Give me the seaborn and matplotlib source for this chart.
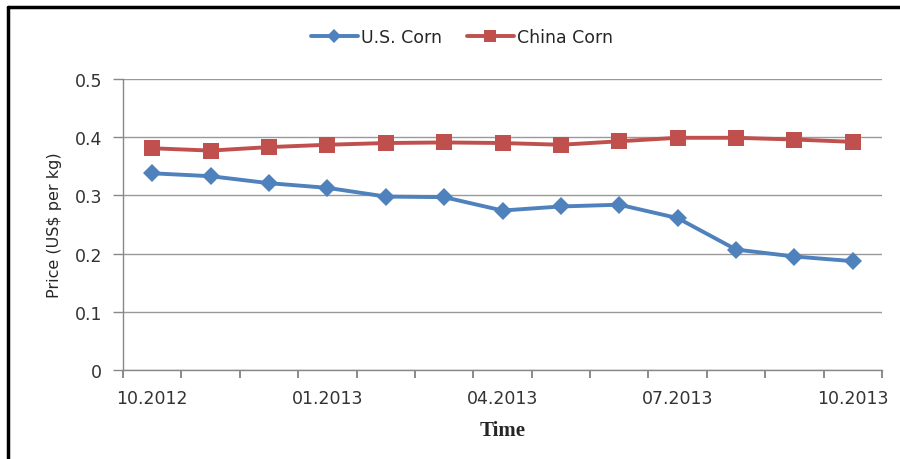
#Corn price comparison: U.S. vs China

#Import the libraries
import pandas as pd
import matplotlib.pyplot as plt
import seaborn as sns
from matplotlib.lines import Line2D

#Data
months = ['10.2012', '11.2012', '12.2012', '01.2013', '02.2013', '03.2013', '04.2013',
          '05.2013', '06.2013', '07.2013', '08.2013', '09.2013', '10.2013']
us_corn = [0.338, 0.333, 0.321, 0.313, 0.298, 0.297, 0.274,
           0.281, 0.284, 0.261, 0.207, 0.195, 0.187]
china_corn = [0.381, 0.377, 0.383, 0.387, 0.390, 0.391, 0.390,
              0.387, 0.393, 0.399, 0.399, 0.396, 0.392]
label_months = ['10.2012', '01.2013', '04.2013', '07.2013', '10.2013']
series_names = ['U.S. Corn', 'China Corn']
colors = {'U.S. Corn': '#4F81BD', 'China Corn': '#C0504D'}

sns.set_style('white')
plt.rcParams['font.family'] = ['DejaVu Sans']

#Long form data frame
df = pd.DataFrame({
    'Month': months * 2,
    'Price': us_corn + china_corn,
    'Series': ['U.S. Corn'] * len(months) + ['China Corn'] * len(months),
})
df['Pos'] = df.groupby('Series').cumcount()

fig = plt.figure(figsize=(9, 4.6), dpi=100)
ax = fig.add_axes([123/900, 1 - 371/460, (882-123)/900, (371-80)/460])

sns.lineplot(data=df, x='Pos', y='Price', hue='Series', style='Series',
             hue_order=series_names, style_order=series_names,
             markers={'U.S. Corn': 'D', 'China Corn': 's'}, dashes=False,
             palette=colors, linewidth=2.8, markeredgewidth=0,
             legend=False, ax=ax)
#Bigger squares than diamonds, as in the original
for line in ax.get_lines():
    if line.get_marker() == 's':
        line.set_markersize(11)
    else:
        line.set_markersize(9.5)

#Axes look like Excel
ax.set_xlim(-0.5, len(months) - 0.5)
ax.set_ylim(0, 0.5)
ax.set_yticks([0, 0.1, 0.2, 0.3, 0.4, 0.5])
ax.set_yticklabels(['0', '0.1', '0.2', '0.3', '0.4', '0.5'], fontsize=12.5, color='#333333')
ax.set_xticks([months.index(m) for m in label_months])
ax.set_xticklabels(label_months, fontsize=12.5, color='#333333')
ax.set_xticks([i - 0.5 for i in range(len(months) + 1)], minor=True)
ax.tick_params(axis='x', which='major', length=0, pad=14)
ax.tick_params(axis='x', which='minor', length=6, color='#777777', width=1.2, direction='out')
ax.tick_params(axis='y', length=7, color='#888888', width=1, direction='out', pad=8)
ax.xaxis.set_ticks_position('bottom')
ax.yaxis.set_ticks_position('left')
ax.grid(axis='y', color='#999999', linewidth=1)
ax.set_axisbelow(True)
for s in ['top', 'right']:
    ax.spines[s].set_visible(False)
for s in ['left', 'bottom']:
    ax.spines[s].set_color('#888888')
    ax.spines[s].set_linewidth(1)

ax.set_ylabel('Price (US$ per kg)', fontsize=11.5, labelpad=9)
ax.set_xlabel('Time', fontsize=15, fontweight='bold', family='Liberation Serif', labelpad=9)

#Legend on top
handles = [Line2D([], [], color=colors['U.S. Corn'], marker='D', markersize=7, linewidth=2.8, markeredgewidth=0),
           Line2D([], [], color=colors['China Corn'], marker='s', markersize=9, linewidth=2.8, markeredgewidth=0)]
fig.legend(handles, series_names, loc='center', bbox_to_anchor=(462/900, 1 - 38/460),
           ncol=2, frameon=False, fontsize=12.5, handlelength=2.7, handletextpad=0.2,
           columnspacing=1.4)

#Outer frame: left and top edges
fig.add_artist(Line2D([8/900, 8/900], [0, 1 - 8/460], color='black', linewidth=2.5, transform=fig.transFigure))
fig.add_artist(Line2D([8/900, 1], [1 - 8/460, 1 - 8/460], color='black', linewidth=2.5, transform=fig.transFigure))

plt.savefig('out.png', dpi=100)
